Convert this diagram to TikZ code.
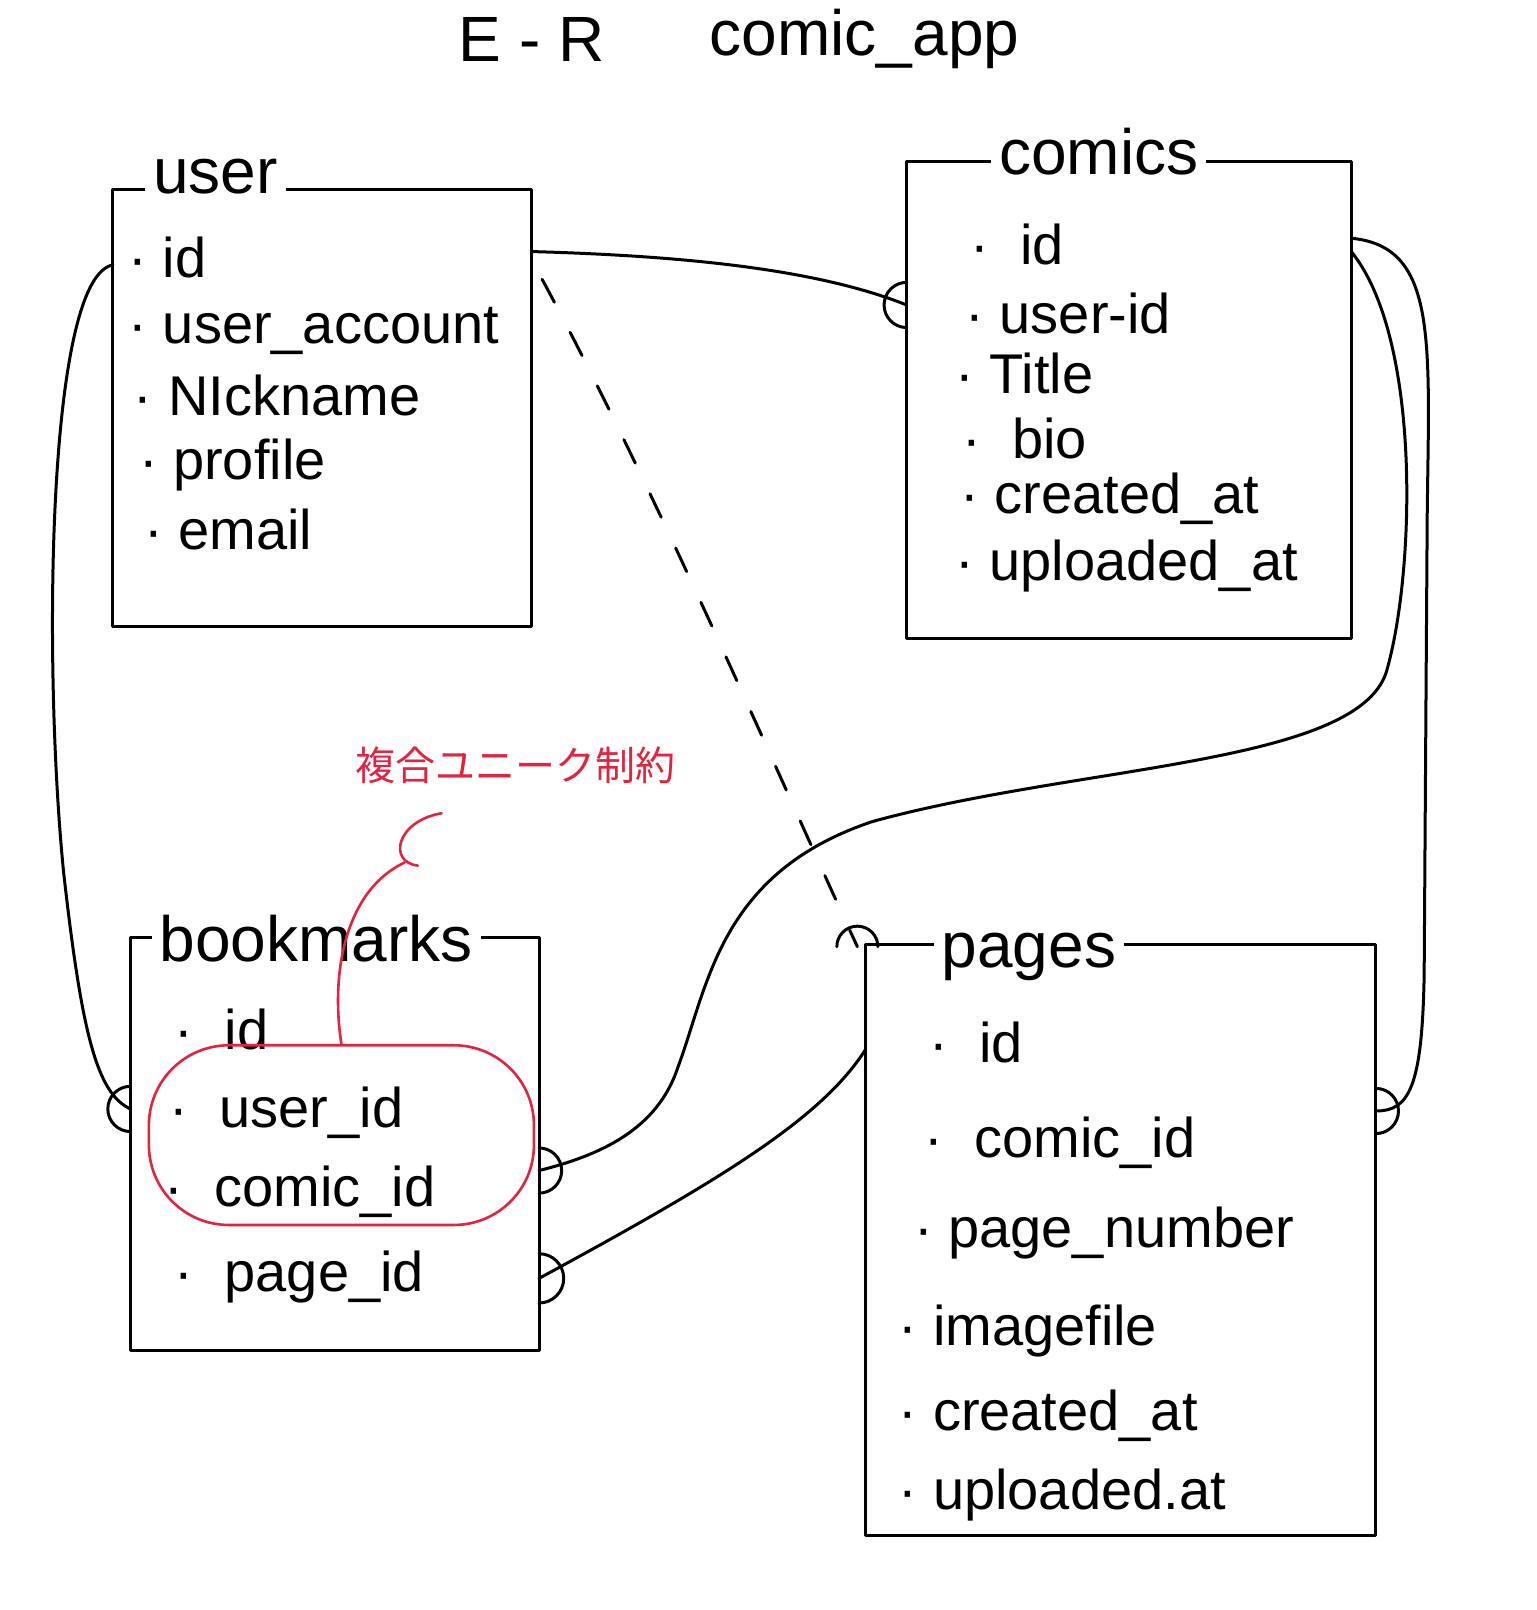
\documentclass[tikz,border=0pt]{standalone}
\usepackage{fontspec}
\setmainfont{Liberation Sans}
\newfontfamily\cjk{Noto Sans CJK JP}
\usetikzlibrary{positioning,fit,shapes.misc}
\definecolor{inkred}{RGB}{226,36,64}

\begin{document}
\begin{tikzpicture}[x=0.5133pt, y=-0.5133pt, line cap=round, line join=round,
        entity/.style={draw, line width=1.5pt, inner sep=0pt},
        etitle/.style={fill=white, inner sep=4pt, anchor=base, font=\fontsize{32}{36}\selectfont},
        field/.style={anchor=base west, inner sep=0pt, font=\fontsize{28}{32}\selectfont},
        rel/.style={line width=1.5pt},
        many/.style={line width=1.5pt},
        uniq/.style={draw=inkred, line width=1.3pt, rounded corners=40pt, inner sep=0pt},
        lead/.style={draw=inkred, line width=1.3pt},
        note/.style={text=inkred, font=\cjk\fontsize{20}{24}\selectfont}]
        \useasboundingbox (0,0) rectangle (1496,1568);

        % title
        \node[font=\fontsize{32}{36}\selectfont] (er) at (518,38) {E - R};
        \node[font=\fontsize{32}{36}\selectfont] (app) at (842,38) {comic\_app};

        % entities
        \node[entity, fit={(110,185) (518,610)}] (user) {};
        \node[entity, fit={(883,157) (1316,622)}] (comics) {};
        \node[entity, fit={(127,913) (525,1315)}] (bookmarks) {};
        \node[entity, fit={(843,920) (1340,1495)}] (pages) {};

        \node[etitle] (user-t) at (210,188) {user};
        \node[etitle] (comics-t) at (1070,170) {comics};
        \node[etitle] (bookmarks-t) at (308,936) {bookmarks};
        \node[etitle] (pages-t) at (1002,942) {pages};

        % user fields
        \node[field] (u1) at (125,270) {·\ id};
        \node[field] (u2) at (125,335) {·\ user\_account};
        \node[field] (u3) at (130,405) {·\ NIckname};
        \node[field] (u4) at (135,467) {·\ profile};
        \node[field] (u5) at (140,535) {·\ email};

        % comics fields
        \node[field] (c1) at (945,258) {·\ \ id};
        \node[field] (c2) at (940,325) {·\ user-id};
        \node[field] (c3) at (930,383) {·\ Title};
        \node[field] (c4) at (937,447) {·\ \ bio};
        \node[field] (c5) at (935,500) {·\ created\_at};
        \node[field] (c6) at (930,565) {·\ uploaded\_at};

        % bookmarks fields
        \node[field] (b1) at (170,1022) {·\ \ id};
        \node[field] (b2) at (165,1098) {·\ \ user\_id};
        \node[field] (b3) at (160,1175) {·\ \ comic\_id};
        \node[field] (b4) at (170,1258) {·\ \ page\_id};

        % pages fields
        \node[field] (p1) at (905,1035) {·\ \ id};
        \node[field] (p2) at (900,1127) {·\ \ comic\_id};
        \node[field] (p3) at (890,1215) {·\ page\_number};
        \node[field] (p4) at (875,1310) {·\ imagefile};
        \node[field] (p5) at (875,1393) {·\ created\_at};
        \node[field] (p6) at (875,1470) {·\ uploaded.at};

        % connector ends
        \coordinate (u-c) at (518,245);
        \coordinate (c-u) at (883,297);
        \coordinate (u-d) at (528,272);
        \coordinate (p-d) at (835,922);
        \coordinate (u-b) at (110,258);
        \coordinate (b-u) at (127,1080);
        \coordinate (c-b) at (1316,245);
        \coordinate (b-c) at (525,1140);
        \coordinate (c-p) at (1316,232);
        \coordinate (p-c) at (1340,1082);
        \coordinate (p-b) at (843,1022);
        \coordinate (b-p) at (525,1245);

        % relations
        \draw[rel] (u-c) .. controls (700,250) and (810,268) .. (c-u);
        \draw[rel, dash pattern=on 13pt off 17pt] (u-d) .. controls (640,480) and (760,760) .. (p-d);
        \draw[rel] (u-b) .. controls (45,270) and (42,650) .. (62,850)
            .. controls (80,1010) and (95,1065) .. (b-u);
        \draw[rel] (c-b) .. controls (1385,330) and (1378,560) .. (1350,655)
            .. controls (1320,745) and (1050,745) .. (850,800)
            .. controls (700,850) and (690,960) .. (660,1040)
            .. controls (640,1100) and (585,1125) .. (b-c);
        \draw[rel] (c-p) .. controls (1400,240) and (1392,330) .. (1390,500)
            -- (1387,950) .. controls (1385,1060) and (1372,1082) .. (p-c);
        \draw[rel] (p-b) .. controls (800,1090) and (700,1150) .. (b-p);

        % many ends
        \draw[many] (c-u) ++(0,-22) arc[start angle=270, end angle=90, radius=22];
        \draw[many] (b-u) ++(0,-22) arc[start angle=270, end angle=90, radius=22];
        \draw[many] (b-c) ++(0,-22) arc[start angle=-90, end angle=90, radius=22];
        \draw[many] (b-p) ++(0,-24) arc[start angle=-90, end angle=90, radius=24];
        \draw[many] (p-c) ++(0,-22) arc[start angle=-90, end angle=90, radius=22];
        \draw[many] (p-d) ++(-20,0) arc[start angle=180, end angle=360, radius=20];

        % composite unique
        \node[uniq, fit={(145,1018) (520,1193)}] (uq) {};
        \node[note] (uq-t) at (502,745) {複合ユニーク制約};
        \coordinate (k) at (394,840);
        \coordinate (k-a) at (430,792);
        \coordinate (k-b) at (407,843);
        \draw[lead] (uq.north) .. controls (322,950) and (335,868) .. (k);
        \draw[lead] (k-a) .. controls (385,800) and (378,840) .. (k-b);
\end{tikzpicture}
\end{document}
